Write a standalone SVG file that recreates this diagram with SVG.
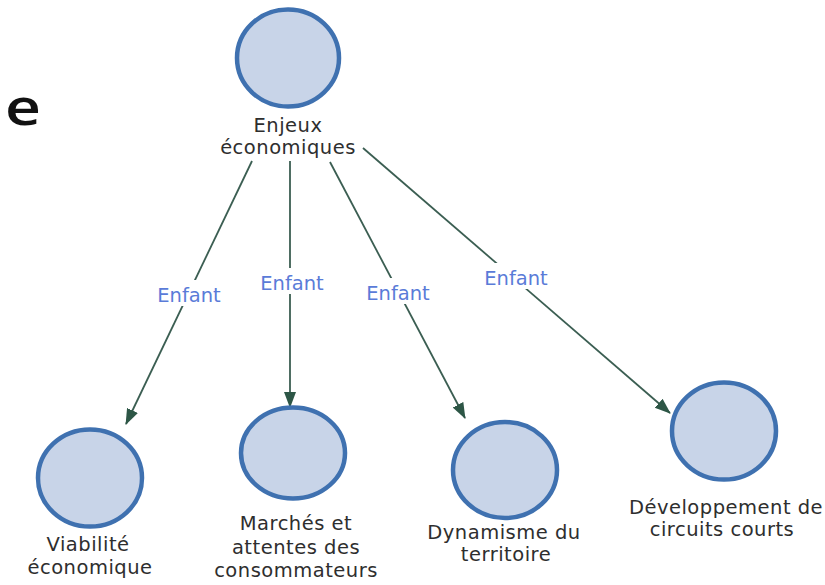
<svg xmlns="http://www.w3.org/2000/svg" width="825" height="585" viewBox="0 0 825 585">
  <style>
    .node { fill: #c8d4e8; stroke: #3f71b0; stroke-width: 4.5; }
    .lbl { font-family: "DejaVu Sans", "Liberation Sans", sans-serif; font-size: 19.5px; fill: #2e2e2e; text-anchor: middle; letter-spacing: 0.5px; }
    .edge { stroke: #3b5e52; stroke-width: 1.8; fill: none; marker-end: url(#arrow); }
    .tag { font-family: "DejaVu Sans", "Liberation Sans", sans-serif; font-size: 19.5px; fill: #5a7bd8; text-anchor: middle; }
    .tagbg { fill: #ffffff; }
  </style>
  <defs>
    <marker id="arrow" markerUnits="userSpaceOnUse" markerWidth="16" markerHeight="14" viewBox="0 0 16 14" refX="15" refY="7" orient="auto">
      <path d="M0,1 L16,7 L0,13 Z" fill="#2d5646"/>
    </marker>
  </defs>
  <rect width="825" height="585" fill="#ffffff"/>

  <!-- partial heading letter at the left edge -->
  <text x="5" y="125" font-family="'Open Sans', 'DejaVu Sans', sans-serif" font-size="50" font-weight="600" fill="#111111" textLength="36" lengthAdjust="spacingAndGlyphs">e</text>

  <!-- connectors -->
  <g id="connectors">
    <line class="edge" x1="252" y1="161" x2="126" y2="424"/>
    <line class="edge" x1="290" y1="161" x2="290" y2="407"/>
    <line class="edge" x1="330" y1="162" x2="465" y2="418"/>
    <line class="edge" x1="363" y1="148" x2="670" y2="413"/>
    <rect class="tagbg" x="152" y="280" width="74" height="26"/>
    <text class="tag" x="189" y="302">Enfant</text>
    <rect class="tagbg" x="255" y="268" width="74" height="26"/>
    <text class="tag" x="292" y="290">Enfant</text>
    <rect class="tagbg" x="360" y="278" width="76" height="26"/>
    <text class="tag" x="398" y="300">Enfant</text>
    <rect class="tagbg" x="479" y="263" width="74" height="26"/>
    <text class="tag" x="516" y="285">Enfant</text>
  </g>

  <g id="enjeux-economiques">
    <ellipse class="node" cx="288" cy="58" rx="51" ry="48.5"/>
    <text class="lbl" x="288" y="132">Enjeux</text>
    <text class="lbl" x="288" y="154">économiques</text>
  </g>

  <g id="viabilite-economique">
    <ellipse class="node" cx="90" cy="478" rx="52" ry="48.5"/>
    <text class="lbl" x="88" y="551">Viabilité</text>
    <text class="lbl" x="90" y="574">économique</text>
  </g>

  <g id="marches-attentes">
    <ellipse class="node" cx="293" cy="453" rx="52" ry="45.5"/>
    <text class="lbl" x="296" y="530">Marchés et</text>
    <text class="lbl" x="296" y="554">attentes des</text>
    <text class="lbl" x="296" y="577">consommateurs</text>
  </g>

  <g id="dynamisme-territoire">
    <ellipse class="node" cx="505" cy="470" rx="52" ry="48"/>
    <text class="lbl" x="504" y="539">Dynamisme du</text>
    <text class="lbl" x="506" y="561">territoire</text>
  </g>

  <g id="circuits-courts">
    <ellipse class="node" cx="724" cy="431" rx="52" ry="48.5"/>
    <text class="lbl" x="726" y="514">Développement de</text>
    <text class="lbl" x="722" y="536">circuits courts</text>
  </g>
</svg>
